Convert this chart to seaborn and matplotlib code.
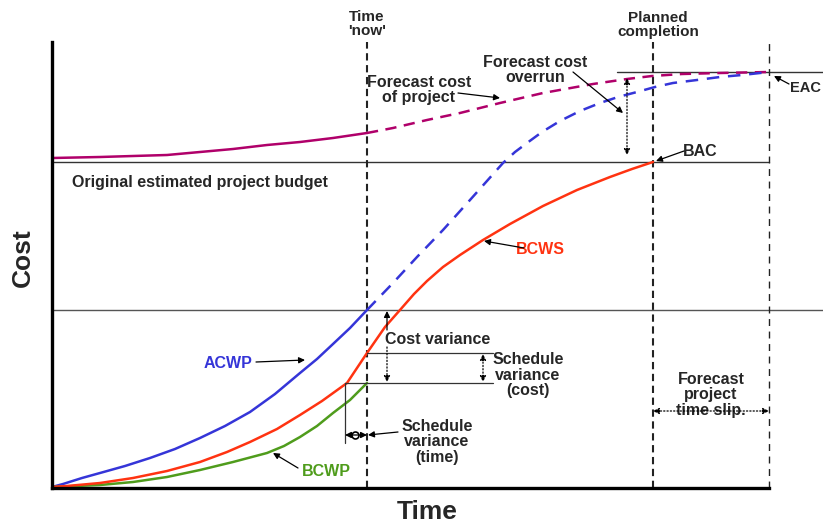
import matplotlib
matplotlib.use("Agg")
import matplotlib.pyplot as plt
import seaborn as sns

# =====================================================
# values (time / cost, pixel-scaled units)
# =====================================================

acwp_t = [0, 11, 30, 48, 73, 98, 123, 148, 173, 198, 223, 248, 265, 281, 298, 315]
acwp_c = [1, 4, 10, 15, 22, 30, 39, 50, 62, 76, 94, 115, 129, 144, 160, 178]

acwp_fc_t = [315, 341, 365, 391, 418, 451, 463, 475, 490, 508, 528, 548, 566, 585, 603, 621, 645, 668, 690, 717]
acwp_fc_c = [178, 205, 231, 258, 288, 325, 336, 345, 356, 367, 377, 385, 391, 396, 401, 405, 408, 411, 413, 416]

bcws_t = [0, 15, 48, 81, 115, 148, 175, 198, 225, 248, 270, 295, 315, 333, 348, 362, 375, 391,
          408, 431, 458, 491, 525, 558, 580, 601]
bcws_c = [1, 2, 5, 10, 17, 26, 36, 46, 59, 73, 87, 105, 135, 161, 178, 194, 207, 221,
          233, 248, 264, 282, 298, 311, 319, 326]

bcwp_t = [0, 48, 81, 115, 148, 181, 215, 232, 248, 265, 281, 298, 315]
bcwp_c = [1, 3, 6, 11, 18, 26, 35, 42, 51, 62, 75, 88, 105]

proj_t = [0, 48, 81, 115, 148, 181, 215, 248, 281, 315]
proj_c = [330, 331, 332, 333, 336, 339, 343, 346, 350, 355]

proj_fc_t = [315, 341, 375, 408, 448, 491, 541, 575, 600, 630, 668, 717]
proj_fc_c = [355, 360, 368, 375, 385, 395, 404, 409, 412, 414, 415, 416]

t_now = 315
t_planned = 601
t_forecast = 717
t_bcwp_match = 293

bac = 326
eac = 416
acwp_now = 178
bcws_now = 135
bcwp_now = 105

# =====================================================
# figure
# =====================================================

sns.set_theme(style="white")
plt.rcParams["font.family"] = ["Liberation Sans", "DejaVu Sans"]
plt.rcParams["font.weight"] = "bold"

fig = plt.figure(figsize=(8.23, 5.27), dpi=100)
ax = fig.add_axes([52 / 823, 39 / 527, 771 / 823, 446 / 527])
ax.set_xlim(0, 771)
ax.set_ylim(0, 446)

MAGENTA = "#b0006a"
BLUE = "#3535d8"
RED = "#ff3311"
GREEN = "#4f9c1c"

# curves
sns.lineplot(x=proj_t, y=proj_c, color=MAGENTA, lw=1.8, ax=ax)
sns.lineplot(x=proj_fc_t, y=proj_fc_c, color=MAGENTA, lw=1.8, ax=ax, dashes=False,
             linestyle=(0, (4.5, 3)))
sns.lineplot(x=acwp_fc_t, y=acwp_fc_c, color=BLUE, lw=1.8, ax=ax, dashes=False,
             linestyle=(0, (5, 3.5)))
sns.lineplot(x=acwp_t, y=acwp_c, color=BLUE, lw=1.8, ax=ax)
sns.lineplot(x=bcwp_t, y=bcwp_c, color=GREEN, lw=1.8, ax=ax)
sns.lineplot(x=bcws_t, y=bcws_c, color=RED, lw=1.8, ax=ax)

# reference lines
ax.plot([0, t_forecast], [bac, bac], color="#333333", lw=1, zorder=1)
ax.plot([0, 771], [acwp_now, acwp_now], color="#555555", lw=1, zorder=1)
ax.plot([t_planned - 36, 771], [eac, eac], color="#333333", lw=1, zorder=1)

ax.plot([t_now, 441], [bcws_now, bcws_now], color="#333333", lw=0.9)
ax.plot([t_bcwp_match, 441], [bcwp_now, bcwp_now], color="#333333", lw=0.9)
ax.plot([t_bcwp_match, t_bcwp_match], [bcwp_now, 45], color="#333333", lw=0.9)

for xv, lw in [(t_now, 1.5), (t_planned, 1.5), (t_forecast, 1.0)]:
    ax.plot([xv, xv], [0, 446], color="#222222", lw=lw,
            linestyle=(0, (3.5, 2.2)) if lw > 1 else (0, (5, 4)),
            clip_on=False, zorder=1)

# axes styling
sns.despine(ax=ax, top=True, right=True)
ax.spines["left"].set_linewidth(2.4)
ax.spines["bottom"].set_linewidth(2.4)
ax.spines["left"].set_color("black")
ax.spines["bottom"].set_color("black")
ax.spines["bottom"].set_bounds(0, t_forecast)
ax.set_xticks([])
ax.set_yticks([])

ax.set_xlabel("Time", fontsize=19, fontweight="bold")
ax.xaxis.set_label_coords(0.486, -0.026)
ax.set_ylabel("Cost", fontsize=19, fontweight="bold")
ax.yaxis.set_label_coords(-0.022, 0.516)


def arrow(tip, tail, style="-|>", ls="-", color="black"):
    ax.annotate("", xy=tip, xytext=tail,
                arrowprops=dict(arrowstyle=style, color=color, lw=0.9,
                                linestyle=ls, shrinkA=0, shrinkB=0,
                                mutation_scale=9),
                annotation_clip=False)


FS = 11.5
LS = 1.05
ax.text(t_now, 464, "Time\n'now'", ha="center", va="center", fontsize=11, linespacing=LS)
ax.text(606, 463, "Planned\ncompletion", ha="center", va="center", fontsize=11, linespacing=LS)

ax.text(367, 398, "Forecast cost\nof project", ha="center", va="center", fontsize=FS, linespacing=LS)
arrow((448, 390), (406, 395))

ax.text(483, 418, "Forecast cost\noverrun", ha="center", va="center", fontsize=FS, linespacing=LS)
arrow((571, 375), (521, 416))
arrow((575, 333), (575, 410), style="<|-|>", ls=":")

ax.text(648, 336, "BAC", ha="center", va="center", fontsize=FS)
arrow((604, 327), (632, 337))

ax.text(738, 400, "EAC", ha="left", va="center", fontsize=10.5)
arrow((722, 412), (737, 404))

ax.text(20, 306, "Original estimated project budget", ha="left", va="center", fontsize=FS)

ax.text(488, 238, "BCWS", ha="center", va="center", fontsize=FS, color=RED)
arrow((432, 247), (472, 240))

ax.text(176, 124, "ACWP", ha="center", va="center", fontsize=FS, color=BLUE)
arrow((253, 128), (204, 126))

ax.text(274, 17, "BCWP", ha="center", va="center", fontsize=FS, color=GREEN)
arrow((221, 35), (246, 20))

ax.text(333, 149, "Cost variance", ha="left", va="center", fontsize=FS)
arrow((335, acwp_now - 1), (335, 158))
arrow((335, bcwp_now + 1), (335, 141), ls=":")

ax.text(476, 113, "Schedule\nvariance\n(cost)", ha="center", va="center", fontsize=FS, linespacing=LS)
arrow((431, bcwp_now + 1), (431, bcws_now - 1), style="<|-|>", ls=":")

ax.text(385, 46, "Schedule\nvariance\n(time)", ha="center", va="center", fontsize=FS, linespacing=LS)
arrow((t_bcwp_match, 53), (t_now, 53), style="<|-|>")
ax.plot(303, 53, "o", mfc="white", mec="black", ms=5, mew=1.2)
arrow((t_now + 1, 53), (346, 56))

ax.text(659, 93, "Forecast\nproject\ntime slip.", ha="center", va="center", fontsize=FS, linespacing=LS)
arrow((t_planned, 77), (t_forecast, 77), style="<|-|>", ls=":")

fig.savefig("out.png", dpi=100)
plt.close(fig)
